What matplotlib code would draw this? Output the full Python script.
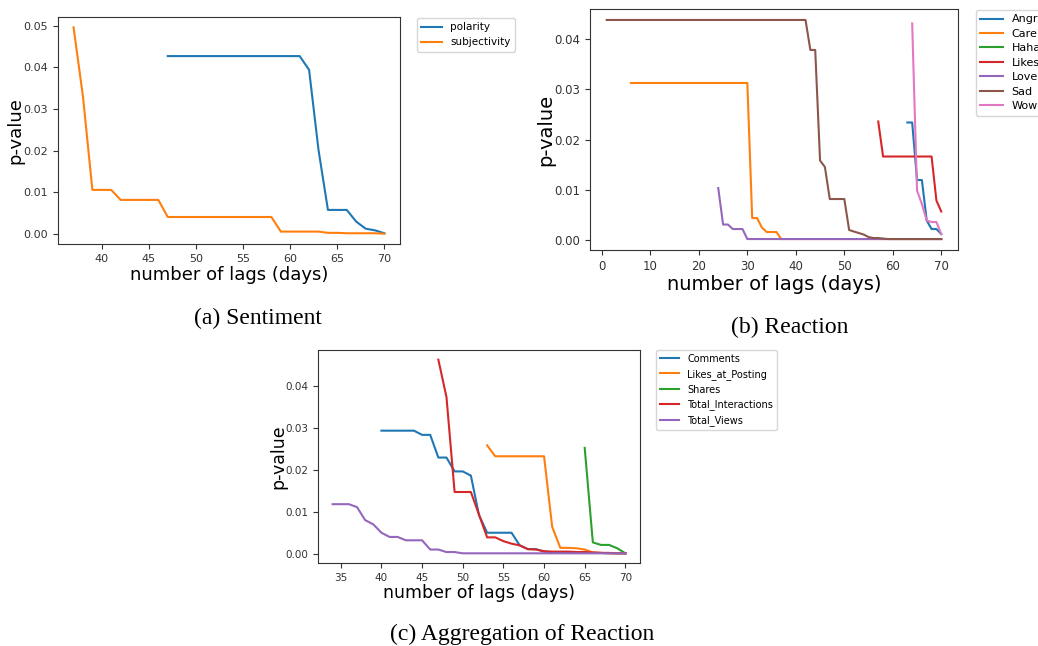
import matplotlib
matplotlib.use("Agg")
import matplotlib.pyplot as plt

# --- data: p-value per number of lags ---
# (a) Sentiment
pol_lags = list(range(47, 71))
polarity = [0.0427, 0.0427, 0.0427, 0.0427, 0.0427, 0.0427, 0.0427, 0.0427,
            0.0427, 0.0427, 0.0427, 0.0427, 0.0427, 0.0427, 0.0427,
            0.0394, 0.0202, 0.0058, 0.0058, 0.0058, 0.0030, 0.0013, 0.0009, 0.0002]
subj_lags = list(range(37, 71))
subjectivity = [0.0496, 0.0330, 0.0106, 0.0106, 0.0106,
                0.0082, 0.0082, 0.0082, 0.0082, 0.0082,
                0.0041, 0.0041, 0.0041, 0.0041, 0.0041, 0.0041,
                0.0041, 0.0041, 0.0041, 0.0041, 0.0041, 0.0041,
                0.0006, 0.0006, 0.0006, 0.0006, 0.0006,
                0.0003, 0.0003, 0.0002, 0.0002, 0.0002, 0.0002, 0.0001]

# (b) Reaction
angry_lags = list(range(63, 71))
angry = [0.0234, 0.0234, 0.0119, 0.0119, 0.0038, 0.0021, 0.0021, 0.0011]
care_lags = list(range(6, 71))
care = [0.0313, 0.0313, 0.0313, 0.0313, 0.0313, 0.0313, 0.0313, 0.0313, 0.0313,
        0.0313, 0.0313, 0.0313, 0.0313, 0.0313, 0.0313, 0.0313, 0.0313, 0.0313,
        0.0313, 0.0313, 0.0313, 0.0313, 0.0313, 0.0313, 0.0313,
        0.0043, 0.0043, 0.0024, 0.0015, 0.0015, 0.0015,
        0.0001, 0.0001, 0.0001, 0.0001, 0.0001, 0.0001, 0.0001, 0.0001, 0.0001,
        0.0001, 0.0001, 0.0001, 0.0001, 0.0001, 0.0001, 0.0001, 0.0001, 0.0001,
        0.0001, 0.0001, 0.0001, 0.0001, 0.0001, 0.0001, 0.0001, 0.0001, 0.0001,
        0.0001, 0.0001, 0.0001, 0.0001, 0.0001, 0.0001, 0.0001]
haha_lags = []
haha = []
likes_lags = list(range(57, 71))
likes = [0.0236, 0.0166, 0.0166, 0.0166, 0.0166, 0.0166, 0.0166, 0.0166,
         0.0166, 0.0166, 0.0166, 0.0166, 0.0078, 0.0056]
love_lags = list(range(24, 71))
love = [0.0103, 0.0030, 0.0030, 0.0021, 0.0021, 0.0021,
        0.0001, 0.0001, 0.0001, 0.0001, 0.0001, 0.0001, 0.0001, 0.0001, 0.0001,
        0.0001, 0.0001, 0.0001, 0.0001, 0.0001, 0.0001, 0.0001, 0.0001, 0.0001,
        0.0001, 0.0001, 0.0001, 0.0001, 0.0001, 0.0001, 0.0001, 0.0001, 0.0001,
        0.0001, 0.0001, 0.0001, 0.0001, 0.0001, 0.0001, 0.0001, 0.0001, 0.0001,
        0.0001, 0.0001, 0.0001, 0.0001, 0.0001]
sad_lags = list(range(1, 71))
sad = [0.0439, 0.0439, 0.0439, 0.0439, 0.0439, 0.0439, 0.0439, 0.0439, 0.0439,
       0.0439, 0.0439, 0.0439, 0.0439, 0.0439, 0.0439, 0.0439, 0.0439, 0.0439,
       0.0439, 0.0439, 0.0439, 0.0439, 0.0439, 0.0439, 0.0439, 0.0439, 0.0439,
       0.0439, 0.0439, 0.0439, 0.0439, 0.0439, 0.0439, 0.0439, 0.0439, 0.0439,
       0.0439, 0.0439, 0.0439, 0.0439, 0.0439, 0.0439,
       0.0379, 0.0379, 0.0158, 0.0145, 0.0081, 0.0081, 0.0081, 0.0081,
       0.0019, 0.0016, 0.0013, 0.0010, 0.0005, 0.0003, 0.0003, 0.0002, 0.0001,
       0.0001, 0.0001, 0.0001, 0.0001, 0.0001, 0.0001, 0.0001, 0.0001, 0.0001,
       0.0001, 0.0001]
wow_lags = list(range(64, 71))
wow = [0.0432, 0.0098, 0.0071, 0.0038, 0.0035, 0.0035, 0.0011]

# (c) Aggregation of Reaction
comments_lags = list(range(40, 71))
comments = [0.0293, 0.0293, 0.0293, 0.0293, 0.0293, 0.0283, 0.0283, 0.0229,
            0.0229, 0.0196, 0.0196, 0.0186, 0.0092, 0.0050, 0.0050, 0.0050,
            0.0050, 0.0020, 0.0011, 0.0011, 0.0005,
            0.0004, 0.0004, 0.0003, 0.0003, 0.0003, 0.0002, 0.0002, 0.0001,
            0.0001, 0.0001]
lap_lags = list(range(53, 71))
likes_at_posting = [0.0258, 0.0232, 0.0232, 0.0232, 0.0232, 0.0232, 0.0232,
                    0.0232, 0.0064, 0.0014, 0.0014, 0.0013, 0.0010, 0.0003,
                    0.0002, 0.0001, 0.0001, 0.0001]
shares_lags = list(range(65, 71))
shares = [0.0252, 0.0027, 0.0021, 0.0021, 0.0013, 0.0001]
ti_lags = list(range(47, 71))
total_interactions = [0.0462, 0.0373, 0.0147, 0.0147, 0.0147, 0.0093, 0.0039,
                      0.0039, 0.0030, 0.0024, 0.0020, 0.0011, 0.0010, 0.0006,
                      0.0005, 0.0005, 0.0005, 0.0004, 0.0004, 0.0003, 0.0002,
                      0.0002, 0.0001, 0.0001]
tv_lags = list(range(34, 71))
total_views = [0.0118, 0.0118, 0.0118, 0.0111, 0.0080, 0.0070, 0.0050, 0.0040,
               0.0040, 0.0032, 0.0032, 0.0032, 0.0010, 0.0010, 0.0004, 0.0004,
               0.0001,
               0.0001, 0.0001, 0.0001, 0.0001, 0.0001, 0.0001, 0.0001, 0.0001,
               0.0001, 0.0001, 0.0001, 0.0001, 0.0001, 0.0001, 0.0001, 0.0001,
               0.0001, 0.0001, 0.0001, 0.0001]

# --- figure layout in pixels ---
W, H = 1038, 646
fig = plt.figure(figsize=(W / 100, H / 100), dpi=100)


def box(x0, y0, x1, y1):
    """pixel box (top-left origin) -> figure fraction rect"""
    return [x0 / W, 1 - y1 / H, (x1 - x0) / W, (y1 - y0) / H]


def fpos(x, y):
    return (x / W, 1 - y / H)


def style(ax, tick_fs):
    for s in ax.spines.values():
        s.set_color('0.2')
    ax.tick_params(labelsize=tick_fs, colors='0.2', length=3.5)


# (a)
ax_a = fig.add_axes(box(58, 17, 400, 244))
ax_a.plot(pol_lags, polarity, lw=1.5, label='polarity')
ax_a.plot(subj_lags, subjectivity, lw=1.5, label='subjectivity')
ax_a.set_xticks([40, 45, 50, 55, 60, 65, 70])
ax_a.set_yticks([0.00, 0.01, 0.02, 0.03, 0.04, 0.05])
style(ax_a, 8)
ax_a.set_xlabel('number of lags (days)', fontsize=13, labelpad=2)
ax_a.set_ylabel('p-value', fontsize=13)
ax_a.yaxis.set_label_coords(-0.099, 0.5)
ax_a.legend(loc='upper left', bbox_to_anchor=fpos(417, 18),
            bbox_transform=fig.transFigure, fontsize=7.5, borderaxespad=0)

# (b)
ax_b = fig.add_axes(box(590, 9, 958, 250))
ax_b.plot(angry_lags, angry, lw=1.5, label='Angry')
ax_b.plot(care_lags, care, lw=1.5, label='Care')
ax_b.plot(haha_lags, haha, lw=1.5, label='Haha')
ax_b.plot(likes_lags, likes, lw=1.5, label='Likes')
ax_b.plot(love_lags, love, lw=1.5, label='Love')
ax_b.plot(sad_lags, sad, lw=1.5, label='Sad')
ax_b.plot(wow_lags, wow, lw=1.5, label='Wow')
ax_b.set_xticks([0, 10, 20, 30, 40, 50, 60, 70])
ax_b.set_yticks([0.00, 0.01, 0.02, 0.03, 0.04])
style(ax_b, 8.5)
ax_b.set_xlabel('number of lags (days)', fontsize=14, labelpad=2)
ax_b.set_ylabel('p-value', fontsize=14)
ax_b.yaxis.set_label_coords(-0.095, 0.5)
ax_b.legend(loc='upper left', bbox_to_anchor=fpos(976, 10),
            bbox_transform=fig.transFigure, fontsize=8, labelspacing=0.4,
            borderaxespad=0)

# (c)
ax_c = fig.add_axes(box(318, 350, 640, 563))
ax_c.plot(comments_lags, comments, lw=1.5, label='Comments')
ax_c.plot(lap_lags, likes_at_posting, lw=1.5, label='Likes_at_Posting')
ax_c.plot(shares_lags, shares, lw=1.5, label='Shares')
ax_c.plot(ti_lags, total_interactions, lw=1.5, label='Total_Interactions')
ax_c.plot(tv_lags, total_views, lw=1.5, label='Total_Views')
ax_c.set_xticks([35, 40, 45, 50, 55, 60, 65, 70])
ax_c.set_yticks([0.00, 0.01, 0.02, 0.03, 0.04])
style(ax_c, 7.5)
ax_c.set_xlabel('number of lags (days)', fontsize=12.5, labelpad=1)
ax_c.set_ylabel('p-value', fontsize=12.5)
ax_c.yaxis.set_label_coords(-0.096, 0.5)
ax_c.legend(loc='upper left', bbox_to_anchor=fpos(656, 350),
            bbox_transform=fig.transFigure, fontsize=7, borderaxespad=0)

# captions
cap = dict(family='Liberation Serif', fontsize=17, ha='center', va='center')
fig.text(*fpos(258, 318), '(a) Sentiment', **cap)
fig.text(*fpos(790, 327), '(b) Reaction', **cap)
fig.text(*fpos(522, 634), '(c) Aggregation of Reaction', **cap)

fig.savefig('out.png', dpi=100)
